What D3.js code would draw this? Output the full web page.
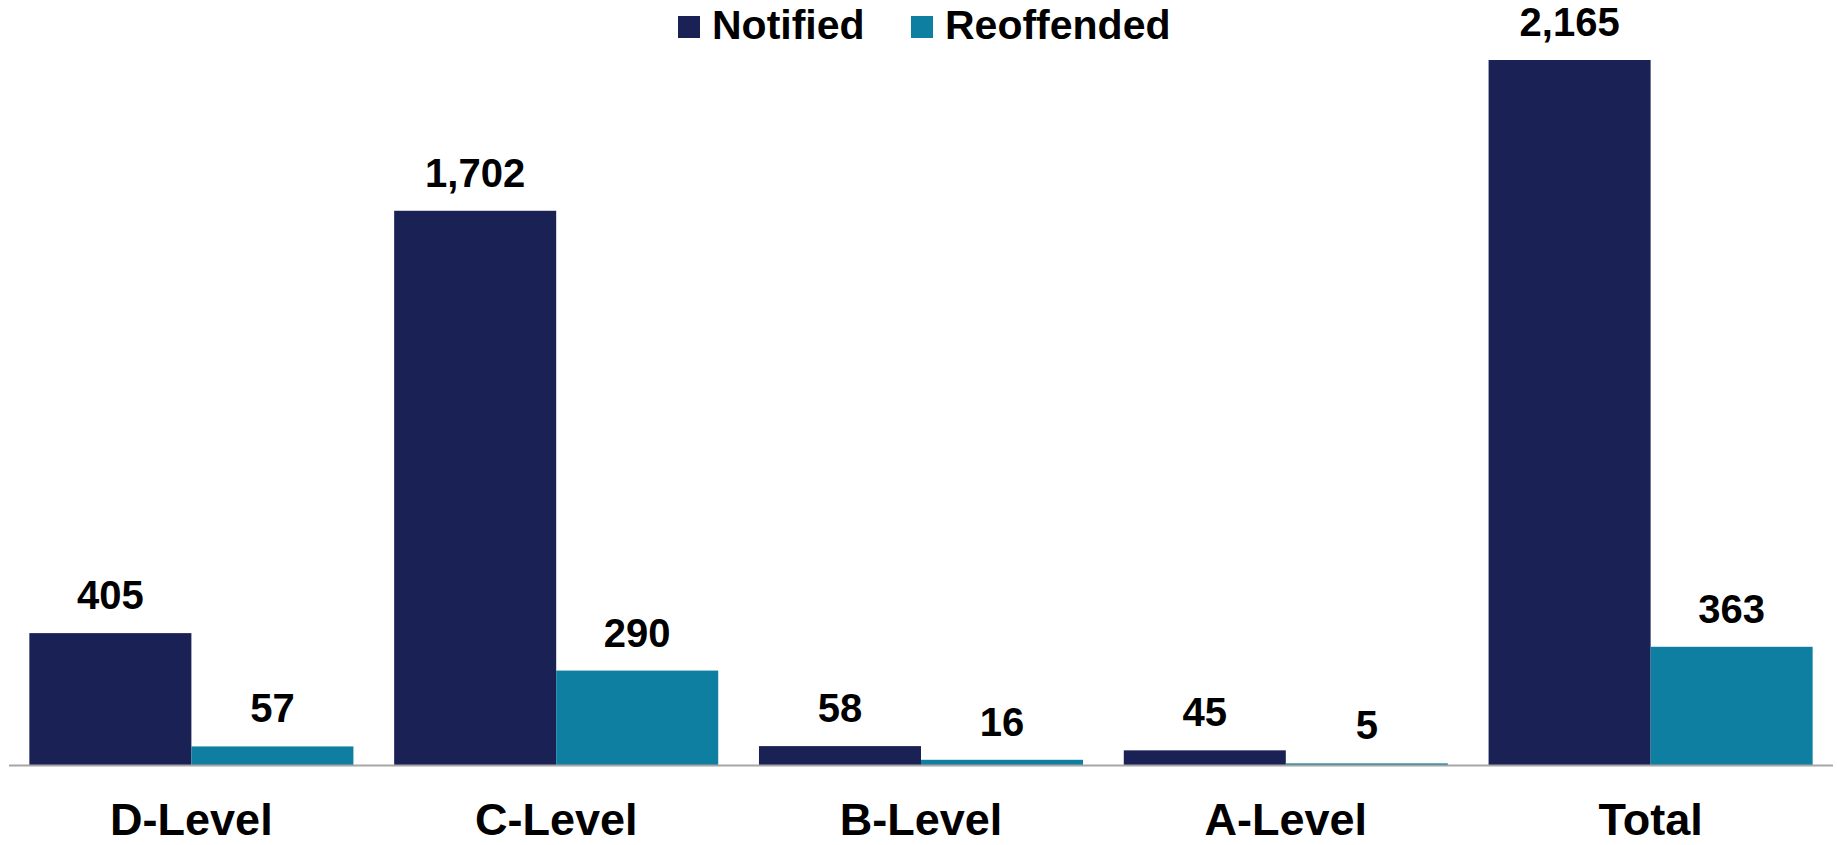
<!DOCTYPE html>
<html>
<head>
<meta charset="utf-8">
<script src="https://cdn.jsdelivr.net/npm/d3@7"></script>
<style>
  html, body { margin: 0; padding: 0; background: #ffffff; }
  svg { display: block; font-family: "Liberation Sans", Arial, sans-serif; font-weight: bold; }
</style>
</head>
<body>
<div id="chart"></div>
<script>
// 데이터
const categories = ['D-Level', 'C-Level', 'B-Level', 'A-Level', 'Total'];
const seriesNames = ['Notified', 'Reoffended'];
const notified = [405, 1702, 58, 45, 2165];
const reoffended = [57, 290, 16, 5, 363];

const colors = { Notified: '#1a2155', Reoffended: '#0e7fa0' };

const width = 1837, height = 845;
const baseY = 765;

const svg = d3.select('#chart').append('svg')
    .attr('width', width)
    .attr('height', height);

// x 스케일 (그룹)
const x0 = d3.scaleBand()
    .domain(categories)
    .range([9, 1833])
    .paddingInner(0.1117)
    .paddingOuter(0.0558);

const x1 = d3.scaleBand()
    .domain(seriesNames)
    .range([0, x0.bandwidth()]);

const y = d3.scaleLinear()
    .domain([0, d3.max(notified)])
    .range([baseY, 60]);

const rows = categories.map((c, i) => ({
    cat: c,
    values: [
        { key: 'Notified', value: notified[i] },
        { key: 'Reoffended', value: reoffended[i] }
    ]
}));

const groups = svg.append('g')
    .selectAll('g')
    .data(rows)
    .join('g')
    .attr('transform', d => `translate(${x0(d.cat)},0)`);

groups.selectAll('rect')
    .data(d => d.values)
    .join('rect')
    .attr('x', d => x1(d.key))
    .attr('y', d => y(d.value))
    .attr('width', x1.bandwidth())
    .attr('height', d => baseY - y(d.value))
    .attr('fill', d => colors[d.key]);

// 값 라벨
const fmt = d3.format(',');
groups.selectAll('text.val')
    .data(d => d.values)
    .join('text')
    .attr('class', 'val')
    .attr('x', d => x1(d.key) + x1.bandwidth() / 2)
    .attr('y', d => y(d.value) - 24)
    .attr('text-anchor', 'middle')
    .attr('font-size', 40)
    .attr('fill', '#000')
    .text(d => fmt(d.value));

// x 축 선
svg.append('line')
    .attr('x1', x0.range()[0])
    .attr('x2', x0.range()[1])
    .attr('y1', baseY + 0.5)
    .attr('y2', baseY + 0.5)
    .attr('stroke', '#a6a6a6')
    .attr('stroke-width', 2);

// 카테고리 라벨
svg.append('g')
    .selectAll('text')
    .data(categories)
    .join('text')
    .attr('x', d => x0(d) + x0.bandwidth() / 2)
    .attr('y', 835)
    .attr('text-anchor', 'middle')
    .attr('font-size', 45)
    .attr('fill', '#000')
    .text(d => d);

// 범례
const legendPos = [678, 911];
const legend = svg.append('g')
    .selectAll('g')
    .data(seriesNames)
    .join('g')
    .attr('transform', (d, i) => `translate(${legendPos[i]},16)`);

legend.append('rect')
    .attr('width', 22)
    .attr('height', 22)
    .attr('fill', d => colors[d]);

legend.append('text')
    .attr('x', 34)
    .attr('y', 23)
    .attr('font-size', 41)
    .attr('fill', '#000')
    .text(d => d);
</script>
</body>
</html>
